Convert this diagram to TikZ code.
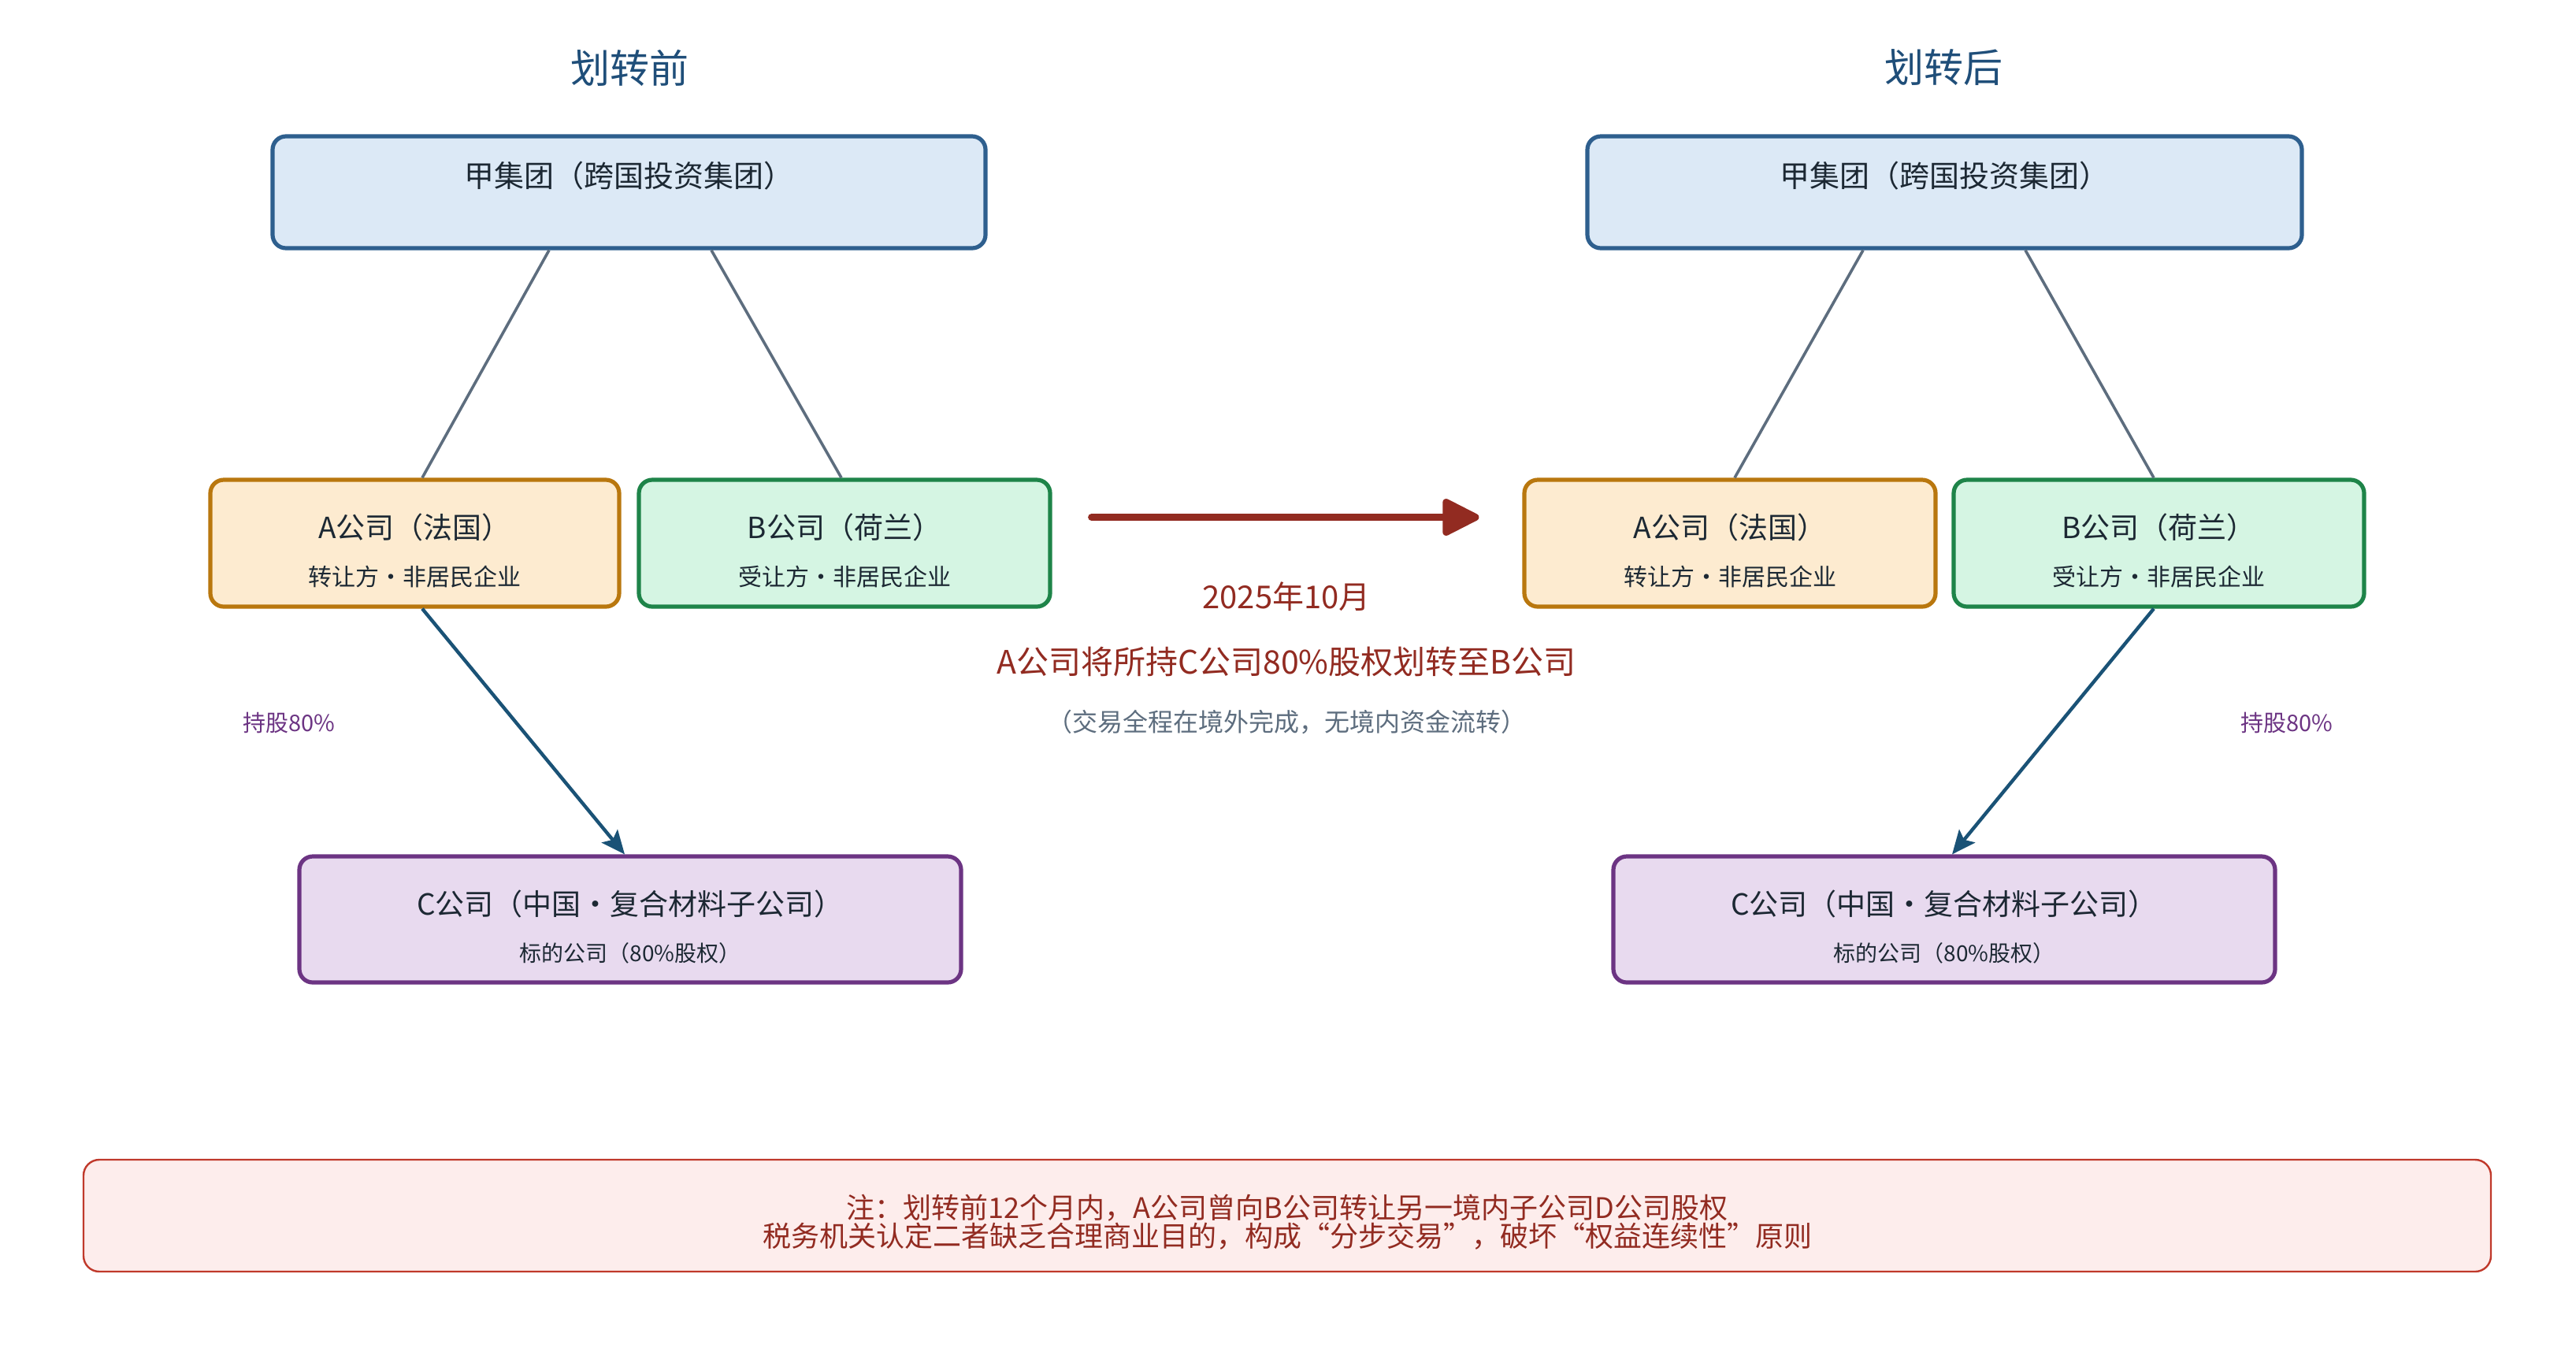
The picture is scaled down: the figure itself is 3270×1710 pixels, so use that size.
\documentclass[tikz,border=0pt]{standalone}
\usepackage{fontspec}
\setmainfont{Noto Sans CJK SC}
\usetikzlibrary{arrows.meta,calc}
\definecolor{titleC}{HTML}{1F4E79}
\definecolor{topF}{HTML}{DCE9F6}
\definecolor{topD}{HTML}{2E5F8E}
\definecolor{aF}{HTML}{FDEBD0}
\definecolor{aD}{HTML}{B9770E}
\definecolor{bF}{HTML}{D5F5E3}
\definecolor{bD}{HTML}{1E8449}
\definecolor{cF}{HTML}{E8DAEF}
\definecolor{cD}{HTML}{6C3483}
\definecolor{grayL}{HTML}{5D6D7E}
\definecolor{blueA}{HTML}{1A5276}
\definecolor{redA}{HTML}{922B21}
\definecolor{noteF}{HTML}{FDEDEC}
\definecolor{noteD}{HTML}{C0392B}
\definecolor{txt}{HTML}{1C2833}
\begin{document}
\begin{tikzpicture}[x=0.5pt,y=-0.5pt,
  box/.style={rounded corners=8.5pt, line width=2.6pt, inner sep=0pt},
  ttl/.style={font=\fontsize{25}{30}\selectfont, text=titleC},
  bigt/.style={font=\fontsize{19}{22}\selectfont, text=txt, inner sep=0pt},
  subt/.style={font=\fontsize{15}{18}\selectfont, text=txt, inner sep=0pt},
  csub/.style={font=\fontsize{14}{17}\selectfont, text=txt, inner sep=0pt},
  conn/.style={draw=grayL, line width=1.8pt},
  own/.style={draw=blueA, line width=2.2pt, -{Stealth[length=15pt,width=13pt,inset=3pt]}},
  hold/.style={font=\fontsize{14.5}{17}\selectfont, text=cD},
]
\useasboundingbox[fill=white] (0,0) rectangle (3270,1710);

% titles
\node[ttl] (t1) at (799,86) {划转前};
\node[ttl] (t2) at (2467,86) {划转后};

% ---- before ----
\node[box, draw=topD, fill=topF, minimum width=452.5pt, minimum height=71pt] (top1) at (798.5,244) {};
\node[bigt] (top1t) at (798.5,223) {甲集团（跨国投资集团）};
\node[box, draw=aD, fill=aF, minimum width=259.5pt, minimum height=80.5pt] (a1) at (526.5,689.5) {};
\node[bigt, font=\fontsize{18.5}{22}\selectfont] (a1t) at (526.5,669) {A公司（法国）};
\node[subt] (a1s) at (526.5,732) {转让方·非居民企业};
\node[box, draw=bD, fill=bF, minimum width=261pt, minimum height=80.5pt] (b1) at (1072,689.5) {};
\node[bigt, font=\fontsize{18.5}{22}\selectfont] (b1t) at (1072,669) {B公司（荷兰）};
\node[subt] (b1s) at (1072,732) {受让方·非居民企业};
\node[box, draw=cD, fill=cF, minimum width=420pt, minimum height=80pt] (c1) at (800,1167) {};
\node[bigt, font=\fontsize{18.5}{22}\selectfont] (c1t) at (800,1147) {C公司（中国·复合材料子公司）};
\node[csub] (c1s) at (800,1210) {标的公司（80\%股权）};

\draw[conn] ($(top1.south)+(-101.5,0)$) -- ($(a1.north)+(9.5,0)$);
\draw[conn] ($(top1.south)+(104.5,0)$) -- ($(b1.north)+(-4,0)$);
\draw[own] ($(a1.south)+(9.5,0)$) -- ($(c1.north)+(-7,0)$);
\node[hold] (h1) at (367,918) {持股80\%};

% ---- after ----
\node[box, draw=topD, fill=topF, minimum width=453.5pt, minimum height=71pt] (top2) at (2468.5,244) {};
\node[bigt] (top2t) at (2468.5,223) {甲集团（跨国投资集团）};
\node[box, draw=aD, fill=aF, minimum width=261pt, minimum height=80.5pt] (a2) at (2196,689.5) {};
\node[bigt, font=\fontsize{18.5}{22}\selectfont] (a2t) at (2196,669) {A公司（法国）};
\node[subt] (a2s) at (2196,732) {转让方·非居民企业};
\node[box, draw=bD, fill=bF, minimum width=260.5pt, minimum height=80.5pt] (b2) at (2740.5,689.5) {};
\node[bigt, font=\fontsize{18.5}{22}\selectfont] (b2t) at (2740.5,669) {B公司（荷兰）};
\node[subt] (b2s) at (2740.5,732) {受让方·非居民企业};
\node[box, draw=cD, fill=cF, minimum width=420pt, minimum height=80pt] (c2) at (2468,1167) {};
\node[bigt, font=\fontsize{18.5}{22}\selectfont] (c2t) at (2468,1147) {C公司（中国·复合材料子公司）};
\node[csub] (c2s) at (2468,1210) {标的公司（80\%股权）};

\draw[conn] ($(top2.south)+(-103.5,0)$) -- ($(a2.north)+(6,0)$);
\draw[conn] ($(top2.south)+(102.5,0)$) -- ($(b2.north)+(-6.5,0)$);
\draw[own] ($(b2.south)+(-6.5,0)$) -- ($(c2.north)+(10,0)$);
\node[hold] (h2) at (2903,918) {持股80\%};

% ---- transfer arrow ----
\draw[draw=redA, line width=4.5pt, line cap=round, -{Triangle[length=26pt,width=25pt,round]}]
  ($(b1.east)+(50,-33)$) -- ($(a2.west)+(-55,-33)$);
\node[font=\fontsize{20}{24}\selectfont, text=redA] (date) at (1633,757) {2025年10月};
\node[font=\fontsize{20.5}{25}\selectfont, text=redA] (desc) at (1633,840) {A公司将所持C公司80\%股权划转至B公司};
\node[font=\fontsize{16}{19}\selectfont, text=grayL] (desc2) at (1633,916) {（交易全程在境外完成，无境内资金流转）};

% ---- note ----
\node[rounded corners=10pt, line width=1.2pt, draw=noteD, fill=noteF, minimum width=1528pt, minimum height=71pt, inner sep=0pt] (note) at (1634,1543) {};
\node[font=\fontsize{18}{18}\selectfont, text=redA, align=center, inner sep=0pt] (notet) at (1634,1551)
  {注：划转前12个月内，A公司曾向B公司转让另一境内子公司D公司股权\\税务机关认定二者缺乏合理商业目的，构成“分步交易”，破坏“权益连续性”原则};
\end{tikzpicture}
\end{document}
